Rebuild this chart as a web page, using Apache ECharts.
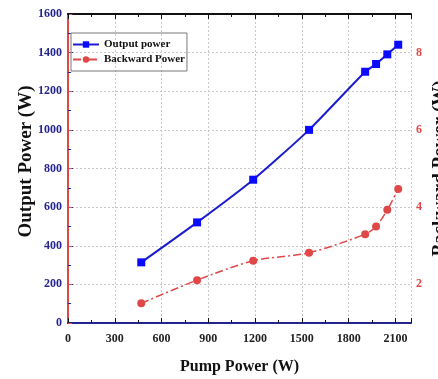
<!DOCTYPE html>
<html>
<head>
<meta charset="utf-8">
<script src="https://cdn.jsdelivr.net/npm/echarts@6/dist/echarts.min.js"></script>
<style>html,body{margin:0;padding:0;background:#fff}#c{width:438px;height:379px}</style>
</head>
<body>
<div id="c"></div>
<script>
const pumpPower = [470, 828, 1188, 1546, 1906, 1976, 2048, 2118];
const outputPower = [314, 521, 742, 1000, 1301, 1341, 1391, 1441];
const backwardPower = [1.51, 2.11, 2.61, 2.82, 3.30, 3.50, 3.93, 4.47];
const leftTicks = [0, 200, 400, 600, 800, 1000, 1200, 1400, 1600];
const rightTicks = [2, 4, 6, 8];
const xTicks = [0, 300, 600, 900, 1200, 1500, 1800, 2100];

const serif = '"Liberation Serif", "DejaVu Serif", serif';
const blue = '#1c1ccf';
const red = '#e04848';
const navy = '#25258f';

const chart = echarts.init(document.getElementById('c'));
chart.setOption({
  animation: false,
  backgroundColor: '#fff',
  grid: {left: 68, top: 14, right: 27, bottom: 56, containLabel: false, outerBoundsMode: 'none'},
  legend: {
    orient: 'vertical', left: 71, top: 33,
    padding: [6, 2, 6, 1], itemGap: 4,
    itemWidth: 26, itemHeight: 8,
    borderColor: '#777', borderWidth: 1,
    textStyle: {fontFamily: serif, fontWeight: 'bold', fontSize: 11, color: '#111'},
    data: ['Output power', 'Backward Power']
  },
  xAxis: [{
    type: 'value', min: 0, max: 2200, interval: 300,
    name: 'Pump Power (W)', nameLocation: 'middle', nameGap: 36,
    nameTextStyle: {fontFamily: serif, fontWeight: 'bold', fontSize: 16, color: '#111'},
    axisLine: {lineStyle: {color: navy, width: 2}},
    axisTick: {inside: true, length: 5, lineStyle: {color: '#111'}},
    minorTick: {show: true, splitNumber: 2, length: 3, lineStyle: {color: '#111'}},
    axisLabel: {fontFamily: serif, fontWeight: 'bold', fontSize: 12, color: '#222', margin: 10,
      showMaxLabel: false,
      formatter: v => xTicks.includes(v) ? String(v) : ''},
    splitLine: {show: true, lineStyle: {color: '#c8c8c8', type: [2, 2]}}
  }, {
    type: 'value', position: 'top', min: 0, max: 2200, interval: 300,
    axisLine: {show: true, lineStyle: {color: '#111', width: 2}},
    axisTick: {show: true, inside: true, length: 5, lineStyle: {color: '#111'}},
    minorTick: {show: true, splitNumber: 2, length: 3, lineStyle: {color: '#111'}},
    axisLabel: {show: false}, splitLine: {show: false}
  }],
  yAxis: [{
    type: 'value', min: 0, max: 1600, interval: 200,
    name: 'Output Power (W)', nameLocation: 'middle', nameGap: 32, nameMoveOverlap: false,
    nameTextStyle: {fontFamily: serif, fontWeight: 'bold', fontSize: 19, color: '#111', padding: [0, 0, 0, 14]},
    axisLine: {show: true, lineStyle: {color: navy, width: 2}},
    axisTick: {show: true, inside: true, length: 5, lineStyle: {color: navy}},
    minorTick: {show: true, splitNumber: 2, length: 3, lineStyle: {color: navy}},
    axisLabel: {fontFamily: serif, fontWeight: 'bold', fontSize: 12, color: navy, margin: 6,
      formatter: v => leftTicks.includes(v) ? String(v) : ''},
    splitLine: {show: true, lineStyle: {color: '#c8c8c8', type: [2, 2]}}
  }, {
    type: 'value', position: 'right', min: 1, max: 9, interval: 1,
    name: 'Backward Power (W)', nameLocation: 'middle', nameGap: 20, nameRotate: 90, nameMoveOverlap: false,
    nameTextStyle: {fontFamily: serif, fontWeight: 'bold', fontSize: 19, color: '#111'},
    axisLine: {show: true, lineStyle: {color: red, width: 2}},
    axisTick: {show: true, length: 4, lineStyle: {color: red}},
    axisLabel: {fontFamily: serif, fontWeight: 'bold', fontSize: 12, color: red, margin: 5,
      formatter: v => rightTicks.includes(v) ? String(v) : ''},
    splitLine: {show: false}
  }],
  series: [{
    name: 'Output power', type: 'line', xAxisIndex: 0, yAxisIndex: 0,
    data: pumpPower.map((x, i) => [x, outputPower[i]]),
    smooth: 0.2, symbol: 'rect', symbolSize: 8,
    lineStyle: {color: blue, width: 2},
    itemStyle: {color: '#0a0aff'}
  }, {
    name: 'Backward Power', type: 'line', xAxisIndex: 0, yAxisIndex: 1,
    data: pumpPower.map((x, i) => [x, backwardPower[i]]),
    smooth: 0.3, symbol: 'circle', symbolSize: 8,
    lineStyle: {color: red, width: 1.5, type: [8, 3, 2, 3]},
    itemStyle: {color: red}
  }]
});
</script>
</body>
</html>
